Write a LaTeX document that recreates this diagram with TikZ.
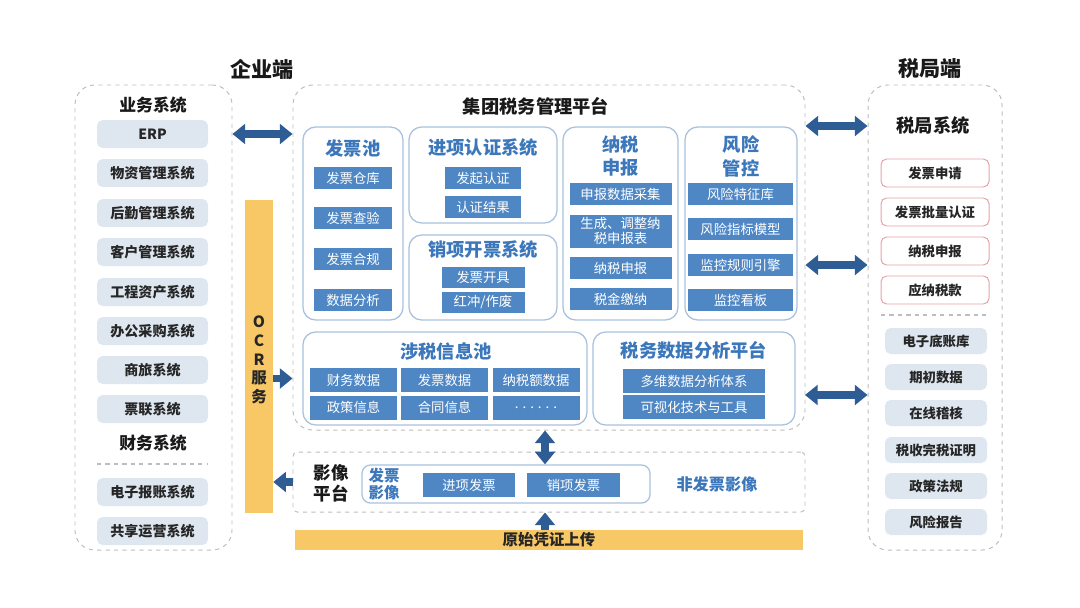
\documentclass[tikz,border=0pt]{standalone}
\usepackage{fontspec}
\setmainfont{Noto Sans CJK SC}
\usetikzlibrary{arrows.meta,positioning}

\definecolor{darkblue}{HTML}{2E5C95}
\definecolor{subblue}{HTML}{4F87C5}
\definecolor{titleblue}{HTML}{3B77BA}
\definecolor{lineblue}{HTML}{A9C1DE}
\definecolor{lightbox}{HTML}{DEE6F0}
\definecolor{barorange}{HTML}{F9C866}
\definecolor{pinkline}{HTML}{E8A2A6}
\definecolor{dashgray}{HTML}{BDBDBD}

\tikzset{
	px/.style 2 args={minimum width=#1*0.025cm, minimum height=#2*0.025cm},
	zone/.style={draw=dashgray, dashed, rounded corners=14pt, line width=0.7pt},
	group/.style={draw=lineblue, rounded corners=9pt, line width=0.9pt, fill=white},
	subitem/.style={fill=subblue, text=white, inner sep=0pt, align=center,
		font=\fontsize{9.5}{10.5}\selectfont},
	sysitem/.style={fill=lightbox, rounded corners=4pt, inner sep=0pt, text=black!85,
		font=\bfseries\fontsize{10}{12}\selectfont},
	taxitem/.style={draw=pinkline, fill=white, rounded corners=4pt, inner sep=0pt,
		line width=0.7pt, text=black!85, font=\bfseries\fontsize{9.5}{12}\selectfont},
	grptitle/.style={text=titleblue, align=center, font=\bfseries\fontsize{13}{15}\selectfont},
	headline/.style={text=black!90, align=center, font=\bfseries\fontsize{12}{14}\selectfont},
	bar/.style={fill=barorange, inner sep=0pt},
	sepline/.style={draw=dashgray, dashed, line width=1.3pt},
	bigarrow/.style={darkblue, line width=5.5pt, {Triangle[length=9pt,width=14pt]}-{Triangle[length=9pt,width=14pt]}},
	onearrow/.style={darkblue, line width=5.5pt, -{Triangle[length=9pt,width=14pt]}},
}

\begin{document}
\begin{tikzpicture}[x=0.025cm, y=-0.025cm]
	\useasboundingbox (0,0) rectangle (1080,607);
	
	% dashed zones
	\node[zone, px={157}{465}] (ent) at (153.5,317.5) {};
	\node[zone, px={512}{345}] (plat) at (549,257.5) {};
	\node[zone, rounded corners=3pt, px={512}{60}] (img) at (549,482) {};
	\node[zone, px={134}{465}] (tax) at (935,317.5) {};
	
	\node[headline, font=\bfseries\fontsize{15}{17}\selectfont] (entname) at (262,69) {企业端};
	\node[headline, font=\bfseries\fontsize{15}{17}\selectfont] (taxname) at (930,69) {税局端};
	\node[headline, font=\bfseries\fontsize{13}{15}\selectfont] (platname) at (536,106) {集团税务管理平台};
	
	% enterprise side
	\node[headline] (yw) at (153,105) {业务系统};
	\foreach \n/\y/\txt in {erp/134/ERP, wz/173/物资管理系统, hq/213/后勤管理系统,
		kh/252/客户管理系统, gc/292/工程资产系统, bg/331/办公采购系统,
		sl/370/商旅系统, pl/409/票联系统, bz/492/电子报账系统, gx/531/共享运营系统}
		\node[sysitem, px={111}{28}] (\n) at (152.5,\y) {\txt};
	\node[headline] (cw) at (153,443) {财务系统};
	\draw[sepline] (97,464) -- (208,464);
	
	% OCR
	\node[bar, px={28}{313}] (ocr) at (259,356.5) {};
	\node[text=black!85, align=center, font=\bfseries\fontsize{11}{13.3}\selectfont] (ocrtxt) at (259,360) {O\\C\\R\\服\\务};
	
	% invoice pool
	\node[group, px={100}{193}] (fpc) at (353,223.5) {};
	\node[grptitle] (fpct) at (353,148) {发票池};
	\foreach \n/\y/\txt in {1/178/发票仓库, 2/218/发票查验, 3/259/发票合规, 4/300/数据分析}
		\node[subitem, px={78}{22}] (fpc\n) at (353,\y) {\txt};
	
	% input invoice certification
	\node[group, px={148}{96}] (jxrz) at (483,175) {};
	\node[grptitle] (jxrzt) at (483,148) {进项认证系统};
	\node[subitem, px={76}{22}] (jxrz1) at (483,178) {发起认证};
	\node[subitem, px={76}{22}] (jxrz2) at (483,207) {认证结果};
	
	% output invoicing
	\node[group, px={148}{85}] (xkkp) at (483,277.5) {};
	\node[grptitle] (xkkpt) at (483,250) {销项开票系统};
	\node[subitem, px={83}{21}] (xkkp1) at (483,277) {发票开具};
	\node[subitem, px={83}{21}] (xkkp2) at (483,302) {红冲/作废};
	
	% tax filing
	\node[group, px={115}{193}] (nssb) at (620.5,223.5) {};
	\node[grptitle, font=\bfseries\fontsize{13}{17}\selectfont] (nssbt) at (620.5,156) {纳税\\申报};
	\node[subitem, px={102}{22}] (nssb1) at (620.5,194) {申报数据采集};
	\node[subitem, px={102}{33}] (nssb2) at (620.5,231) {生成、调整纳\\税申报表};
	\node[subitem, px={102}{22}] (nssb3) at (620.5,268) {纳税申报};
	\node[subitem, px={102}{22}] (nssb4) at (620.5,299) {税金缴纳};
	
	% risk control
	\node[group, px={112}{193}] (fxgk) at (741,223.5) {};
	\node[grptitle, font=\bfseries\fontsize{13}{17}\selectfont] (fxgkt) at (741,156) {风险\\管控};
	\foreach \n/\y/\txt in {1/194/风险特征库, 2/229/风险指标模型, 3/265/监控规则引擎, 4/300/监控看板}
		\node[subitem, px={105}{22}] (fxgk\n) at (740.5,\y) {\txt};
	
	% tax information pool
	\node[group, px={284}{93}] (sxxx) at (445,378.5) {};
	\node[grptitle] (sxxxt) at (446,351) {涉税信息池};
	\node[subitem, px={87}{24}] (sx1) at (353.5,380) {财务数据};
	\node[subitem, px={87}{24}] (sx2) at (444.5,380) {发票数据};
	\node[subitem, px={87}{24}] (sx3) at (536,380) {纳税额数据};
	\node[subitem, px={87}{24}] (sx4) at (353.5,407.5) {政策信息};
	\node[subitem, px={87}{24}] (sx5) at (444.5,407.5) {合同信息};
	\node[subitem, px={87}{24}] (sx6) at (536,407.5) {. . . . . .};
	
	% data analysis platform
	\node[group, px={202}{93}] (sjfx) at (694,378.5) {};
	\node[grptitle] (sjfxt) at (694,350) {税务数据分析平台};
	\node[subitem, px={142}{24}] (sjfx1) at (694,381) {多维数据分析体系};
	\node[subitem, px={142}{24}] (sjfx2) at (694,407) {可视化技术与工具};
	
	% image platform
	\node[headline, font=\bfseries\fontsize{12.5}{15}\selectfont] (imgt) at (331,483) {影像\\平台};
	\node[group, rounded corners=6pt, px={288}{38}] (fpyx) at (506,484) {};
	\node[grptitle, font=\bfseries\fontsize{11}{12.5}\selectfont] (fpyxt) at (384,484) {发票\\影像};
	\node[subitem, px={92}{24}] (yx1) at (469,485) {进项发票};
	\node[subitem, px={93}{24}] (yx2) at (573.5,485) {销项发票};
	\node[grptitle, font=\bfseries\fontsize{11.5}{13}\selectfont] (ffp) at (717,484) {非发票影像};
	
	% upload bar
	\node[bar, px={508}{20}, text=black!85, font=\bfseries\fontsize{11}{12}\selectfont] (upload) at (549,540) {原始凭证上传};
	
	% tax bureau side
	\node[headline, font=\bfseries\fontsize{13}{15}\selectfont] (jx) at (933,126) {税局系统};
	\foreach \n/\y/\txt in {1/173/发票申请, 2/212/发票批量认证, 3/251/纳税申报, 4/290/应纳税款}
		\node[taxitem, px={108}{28}] (tx\n) at (935,\y) {\txt};
	\draw[sepline] (881,315) -- (989,315);
	\foreach \n/\y/\txt in {1/341/电子底账库, 2/377/期初数据, 3/413/在线稽核,
		4/450/税收完税证明, 5/486/政策法规, 6/522/风险报告}
		\node[sysitem, px={102}{26}, font=\bfseries\fontsize{9.5}{12}\selectfont] (ty\n) at (936,\y) {\txt};
	
	% connectors
	\coordinate (vx) at (545,0);
	\coordinate (r3) at (805,395);
	\draw[bigarrow] (ent.east |- erp) -- (plat.west |- erp);
	\draw[onearrow] (ocr.east |- sxxx) -- (plat.west |- sxxx);
	\draw[onearrow] (img.west) -- (ocr.east |- img);
	\draw[bigarrow] (vx |- plat.south) -- (vx |- fpyx.north);
	\draw[onearrow] (vx |- upload.north) -- (vx |- img.south);
	\draw[bigarrow] (plat.east |- jx) -- (tax.west |- jx);
	\draw[bigarrow] (plat.east |- fxgk3) -- (tax.west |- fxgk3);
	\draw[bigarrow] (r3) -- (tax.west |- r3);
\end{tikzpicture}
\end{document}
